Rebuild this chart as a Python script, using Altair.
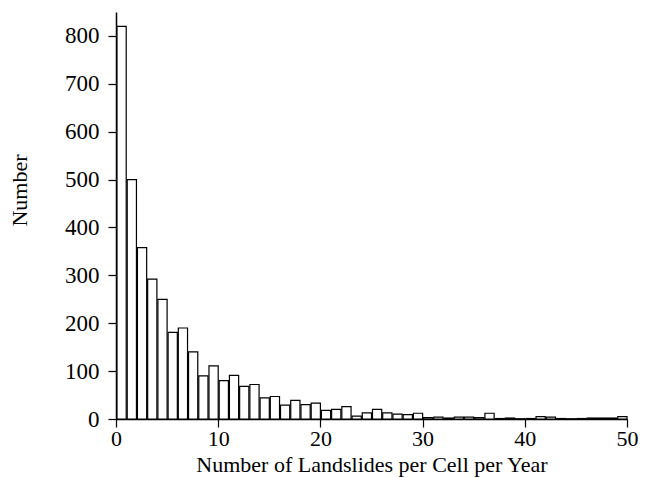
import altair as alt
import pandas as pd

bin_start = list(range(0, 50))
counts = [820, 500, 358, 292, 250, 181, 190, 140, 90, 111,
          80, 91, 68, 72, 44, 47, 29, 39, 30, 33,
          18, 20, 26, 6, 13, 20, 13, 10, 9, 12,
          3, 4, 2, 4, 4, 3, 12, 1, 2, 0.5,
          1, 5, 4, 1, 0.5, 1, 2, 2, 2, 5]
x_ticks = [0, 10, 20, 30, 40, 50]
y_ticks = [0, 100, 200, 300, 400, 500, 600, 700, 800]

df = pd.DataFrame({"start": bin_start, "count": counts})
df["end"] = df["start"] + 1

FONT = "Liberation Serif"

chart = alt.Chart(df).mark_bar(
    fill="white", stroke="black", strokeWidth=1.2, binSpacing=1
).encode(
    x=alt.X("start:Q", bin="binned",
            scale=alt.Scale(domain=[0, 50], nice=False, zero=False),
            axis=alt.Axis(values=x_ticks, title="Number of Landslides per Cell per Year",
                          grid=False, tickSize=8, labelPadding=1, titlePadding=5,
                          labelFlush=False)),
    x2="end:Q",
    y=alt.Y("count:Q",
            scale=alt.Scale(domain=[0, 850], nice=False),
            axis=alt.Axis(values=y_ticks, title="Number", grid=False, tickSize=8,
                          labelPadding=9, labelFontSize=23, titleAngle=-90, titleX=-97, titleY=178,
                          titleAlign="center", titleBaseline="middle")),
).properties(
    width=511, height=407,
    autosize=alt.AutoSizeParams(type="none"),
    padding={"left": 108, "top": 4, "right": 17, "bottom": 58},
).configure_view(
    stroke=None
).configure_axis(
    domainColor="black", tickColor="black", domainWidth=1.5, tickWidth=1.2,
    labelFont=FONT, titleFont=FONT, labelFontSize=22, titleFontSize=22,
    labelColor="black", titleColor="black", titleFontWeight="normal"
)

chart.save("out.html", embed_options={"renderer": "svg", "actions": False})
